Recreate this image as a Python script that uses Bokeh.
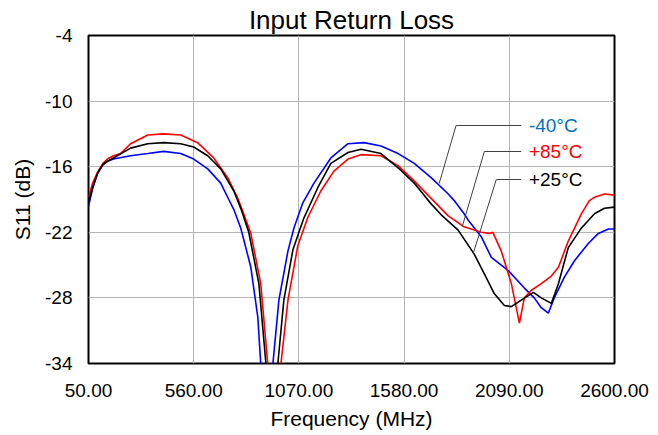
from bokeh.plotting import figure
from bokeh.models import FixedTicker, Range1d
from bokeh.embed import file_html
from bokeh.resources import INLINE
from bokeh.core.properties import value

# ---- data ----
x_ticks = [50, 560, 1070, 1580, 2090, 2600]
x_tick_labels = ["50.00", "560.00", "1070.00", "1580.00", "2090.00", "2600.00"]
y_ticks = [-34, -28, -22, -16, -10, -4]
y_tick_labels = ["-34", "-28", "-22", "-16", "-10", "-4"]

f_m40 = [50, 70, 94, 120, 142, 171, 254, 337, 414, 497, 560, 628, 691, 730, 754, 788, 837, 871, 885, 905,
         925, 944, 973, 1017, 1046, 1089, 1143, 1225, 1308, 1386, 1468, 1551, 1629, 1711, 1794, 1823, 1871,
         1891, 1954, 2003, 2085, 2163, 2211, 2245, 2279, 2308, 2357, 2406, 2474, 2522, 2571, 2600]
s_m40 = [-19.6, -18.0, -16.6, -15.8, -15.5, -15.3, -15.0, -14.8, -14.6, -14.8, -15.3, -16.2, -17.5, -19.0, -19.9, -21.6, -25.2, -29.8, -34.0, -38.0,
         -38.0, -34.0, -28.2, -23.7, -21.6, -19.3, -17.5, -15.2, -13.9, -13.8, -14.1, -14.8, -15.7, -17.0, -18.5, -19.1, -20.3,
         -20.9, -22.4, -24.3, -25.5, -27.1, -28.0, -28.9, -29.4, -28.0, -26.1, -24.6, -23.0, -22.1, -21.7, -21.7]

f_p85 = [50, 70, 94, 120, 142, 171, 205, 254, 337, 414, 497, 579, 657, 725, 774, 800, 837, 885, 919, 940,
         960, 983, 1017, 1065, 1114, 1177, 1240, 1308, 1371, 1468, 1551, 1629, 1711, 1794, 1871, 1954, 1993,
         2010, 2051, 2100, 2139, 2163, 2197, 2245, 2294, 2328, 2376, 2440, 2478, 2503, 2551, 2600]
s_p85 = [-18.8, -17.5, -16.5, -15.7, -15.3, -15.0, -14.8, -13.9, -13.1, -13.0, -13.1, -13.8, -15.2, -17.0, -18.9, -20.2, -22.1, -26.7, -34.0, -38.0,
         -38.0, -34.0, -28.2, -23.2, -20.6, -18.2, -16.4, -15.3, -14.9, -15.0, -15.9, -17.3, -18.9, -20.5, -21.5, -22.0, -22.1,
         -22.0, -23.7, -26.7, -30.3, -28.0, -27.3, -26.7, -26.0, -25.2, -22.8, -20.3, -19.1, -18.8, -18.5, -18.6]

f_p25 = [50, 70, 94, 120, 142, 171, 254, 337, 414, 497, 560, 628, 691, 754, 790, 827, 876, 910, 930,
         950, 968, 997, 1041, 1094, 1162, 1225, 1308, 1371, 1468, 1551, 1629, 1711, 1760, 1842, 1920, 1969,
         2017, 2066, 2100, 2148, 2207, 2245, 2294, 2328, 2376, 2440, 2503, 2551, 2600]
s_p25 = [-19.3, -17.9, -16.6, -15.8, -15.5, -15.2, -14.3, -13.9, -13.8, -13.9, -14.2, -15.0, -16.2, -18.2, -19.9, -22.0, -26.7, -34.0, -38.0,
         -38.0, -34.0, -28.2, -23.6, -20.7, -17.9, -15.7, -14.7, -14.4, -14.8, -16.1, -17.5, -19.4, -20.4, -21.8, -24.0, -25.8,
         -27.6, -28.7, -28.8, -28.2, -27.5, -28.0, -28.5, -26.7, -23.4, -21.6, -20.3, -19.8, -19.7]

series_labels = ["-40°C", "+85°C", "+25°C"]

FONT = "Liberation Sans"

p = figure(width=650, height=432, output_backend="svg", toolbar_location=None,
           x_range=Range1d(50, 2600), y_range=Range1d(-34, -4),
           min_border_left=88, min_border_right=36, min_border_top=35, min_border_bottom=69,
           background_fill_color="white", border_fill_color="white")

p.title.text = "Input Return Loss"
p.title.align = "center"
p.title.offset = 6
p.title.text_font = FONT
p.title.text_font_size = "26px"
p.title.text_font_style = "normal"
p.title.text_color = "black"
p.title.standoff = 2

p.outline_line_color = "black"
p.outline_line_width = 2
p.outline_line_alpha = 1.0

for ax in (p.xaxis[0], p.yaxis[0]):
    ax.axis_line_color = None
    ax.major_tick_line_color = None
    ax.minor_tick_line_color = None
    ax.major_tick_out = 0
    ax.major_tick_in = 0
    ax.major_label_text_font = FONT
    ax.major_label_text_font_size = "19px"
    ax.major_label_text_color = "black"
    ax.axis_label_text_font = FONT
    ax.axis_label_text_font_size = "21px"
    ax.axis_label_text_font_style = "normal"
    ax.axis_label_text_color = "black"

p.xaxis.ticker = FixedTicker(ticks=x_ticks)
p.xaxis.major_label_overrides = {t: l for t, l in zip(x_ticks, x_tick_labels)}
p.yaxis.ticker = FixedTicker(ticks=y_ticks)
p.yaxis.major_label_overrides = {t: l for t, l in zip(y_ticks, y_tick_labels)}
p.xaxis.axis_label = "Frequency (MHz)"
p.yaxis.axis_label = "S11 (dB)"
p.xaxis.major_label_standoff = 20
p.xaxis.axis_label_standoff = 7
p.yaxis.major_label_standoff = 16
p.yaxis.axis_label_standoff = 8

p.xgrid.grid_line_color = "#b4b4b4"
p.ygrid.grid_line_color = "#b4b4b4"
p.xgrid.grid_line_width = 1
p.ygrid.grid_line_width = 1

p.line(f_m40, s_m40, line_color="#0000ff", line_width=1.6)
p.line(f_p85, s_p85, line_color="#ff0000", line_width=1.6)
p.line(f_p25, s_p25, line_color="#000000", line_width=1.6)

# leader lines
lead_col = "#404040"
p.line([1750, 1832, 2148], [-17.54, -12.23, -12.23], line_color=lead_col, line_width=1)
p.line([1862, 1969, 2148], [-21.47, -14.61, -14.61], line_color=lead_col, line_width=1)
p.line([1915, 2027, 2148], [-23.95, -17.17, -17.17], line_color=lead_col, line_width=1)

p.text(x=[2185, 2185, 2185], y=[-12.23, -14.61, -17.17], text=series_labels,
       text_color=["#0070c0", "#ff0000", "#000000"], text_font=value(FONT),
       text_font_size="19px", text_baseline="middle", text_align="left")

open("out.html", "w").write(file_html(p, INLINE))
